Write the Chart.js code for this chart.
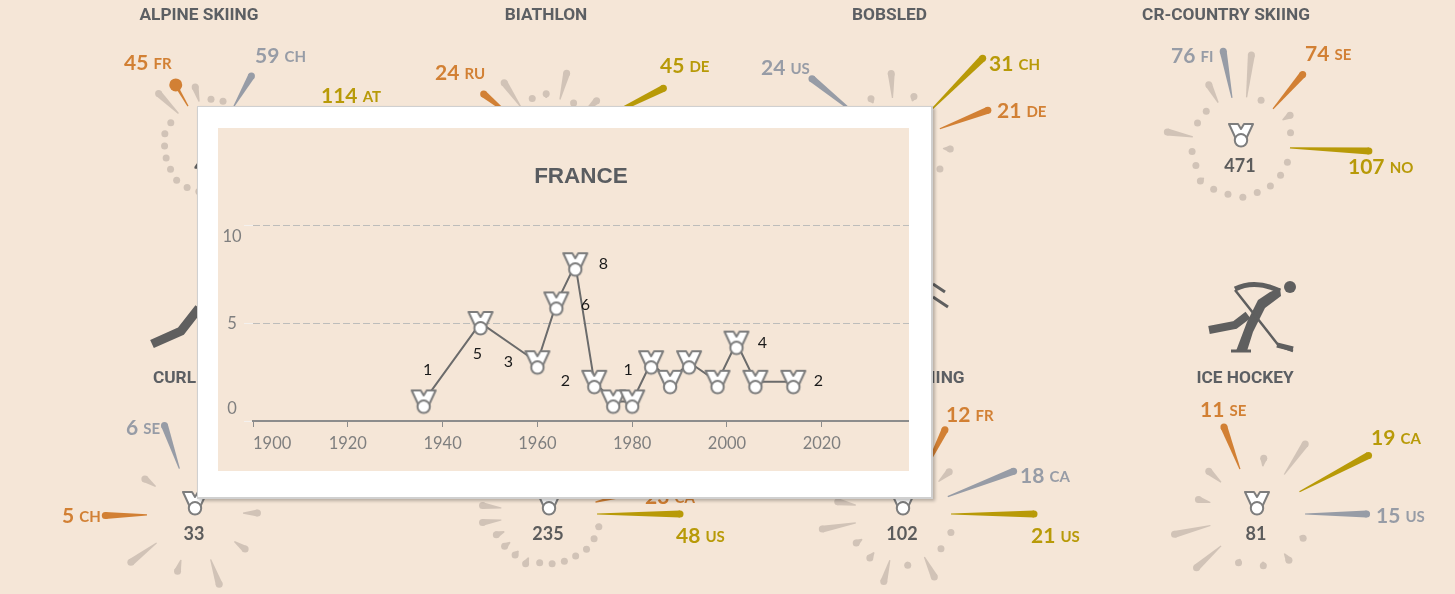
<!DOCTYPE html>
<html>
<head>
<meta charset="utf-8">
<title>France medals</title>
<script src="https://cdn.jsdelivr.net/npm/chart.js@4/dist/chart.umd.min.js"></script>
<style>
    html, body { margin: 0; width: 1455px; height: 594px; overflow: hidden; background: #f5e6d7; }
    canvas { position: absolute; display: block; }
    .sport { position: absolute; transform: translateX(-50%); white-space: nowrap; color: #5c5f63;
             font: 700 17.3px Roboto, sans-serif; }
    #icons { position: absolute; left: 0; top: 0; }
    #popup { position: absolute; left: 197px; top: 106px; width: 733px; height: 390px; background: #fff;
             border: 1px solid #d0d0d0; border-right-width: 2px; border-bottom-width: 2px;
             box-shadow: 2px 2px 3px rgba(0, 0, 0, .25); z-index: 10; }
    #popup canvas { left: 20px; top: 21px; background: #f5e6d7; }
</style>
</head>
<body>
<svg id="icons" width="1455" height="594" fill="none" stroke="#5f5f5f" stroke-linejoin="miter">
    <!-- curling and freestyle pictograms, mostly under the popup -->
    <polyline points="152,344 181,331 199,308" stroke-width="9"/>
    <path d="M933 284 L945 292 M933 297 L948 307" stroke-width="3"/>
    <!-- hockey player -->
    <circle cx="1290" cy="287" r="6" fill="#5f5f5f" stroke="none"/>
    <path d="M1235 289 Q1255 279 1280 291" stroke-width="5"/>
    <polygon points="1280,288 1281,296 1265,308 1253,332 1247,351 1236,351 1247,322 1258,300 1270,292" fill="#5f5f5f" stroke="none"/>
    <path d="M1231 351 L1251 351" stroke-width="3"/>
    <path d="M1209 330 L1235 325 L1248 315" stroke-width="8"/>
    <path d="M1235 290 L1261 323 L1279 346 L1293 351" stroke-width="2.5"/>
    <path d="M1277 345 L1293 349" stroke-width="5"/>
</svg>

<div id="popup"><canvas id="graficoFranca" width="691" height="343"></canvas></div>

<script>
// France line chart
const anosFranca = [1936, 1948, 1960, 1964, 1968, 1972, 1976, 1980, 1984, 1988, 1992, 1998, 2002, 2006, 2014];
const medalhasFranca = [1, 5, 3, 6, 8, 2, 1, 1, 3, 2, 3, 2, 4, 2, 2];
const ticksY = [0, 5, 10];

// Small multiples: medals per country, going clockwise round each burst
const alpineValues = [3, 2, 59, 12, 8, 114, 5, 4, 3, 3, 2, 2, 3, 4, 6, 8, 3, 2, 2, 6, 2, 50, 45, 31];
const biathlonValues = [5, 20, 3, 15, 45, 5, 4, 4, 3, 3, 2, 3, 3, 4, 30, 3, 3, 3, 3, 24, 21, 3];
const bobsledValues = [10, 2, 31, 21, 3, 1, 2, 2, 2, 2, 2, 2, 2, 24, 2];
const crossValues = [71, 6, 74, 25, 10, 107, 2, 2, 4, 3, 10, 6, 10, 16, 2, 2, 51, 2, 2, 43, 76];
const curlingValues = [10, 3, 0.6, 0.5, 2, 0.4, 3, 5, 0.5, 6];
const skatingValues = [3, 6, 8, 12, 20, 23, 48, 2, 2, 2, 1, 1, 1, 1, 4, 3, 4, 5, 11, 11, 5, 4, 4, 3, 3];
const freestyleValues = [2, 12, 4, 18, 21, 1, 1, 6, 1, 6, 2, 2, 9, 5, 2, 2, 2];
const hockeyValues = [2, 9, 19, 15, 1, 2, 1, 1, 8, 9, 3, 4, 11];

// Value and country shown next to a spoke; rank picks the colour
const alpineTop = [[22, 'FR', 'bronze'], [2, 'CH', 'silver'], [5, 'AT', 'gold']];
const biathlonTop = [[19, 'RU', 'bronze'], [4, 'DE', 'gold']];
const bobsledTop = [[13, 'US', 'silver'], [2, 'CH', 'gold'], [3, 'DE', 'bronze']];
const crossTop = [[20, 'FI', 'silver'], [2, 'SE', 'bronze'], [5, 'NO', 'gold']];
const curlingTop = [[9, 'SE', 'silver'], [7, 'CH', 'bronze']];
const skatingTop = [[5, 'CA', 'bronze'], [6, 'US', 'gold']];
const freestyleTop = [[1, 'FR', 'bronze'], [3, 'CA', 'silver'], [4, 'US', 'gold']];
const hockeyTop = [[12, 'SE', 'bronze'], [2, 'CA', 'gold'], [3, 'US', 'silver']];

const cores = { gold: '#b89a08', silver: '#979ca6', bronze: '#d28034', other: '#d1c3b7' };
const RAIO = 190; // half the side of each burst canvas

// Medal picture, used as point style in the line chart and in the middle of each burst
function criarMedalha() {
    const c = document.createElement('canvas');
    c.width = 28;
    c.height = 28;
    const g = c.getContext('2d');
    g.fillStyle = '#fff';
    g.strokeStyle = '#7d7d7d';
    g.lineWidth = 2;
    g.lineJoin = 'round';
    g.beginPath();
    g.moveTo(2, 3);
    g.lineTo(11, 3);
    g.lineTo(14, 8);
    g.lineTo(17, 3);
    g.lineTo(26, 3);
    g.lineTo(19.5, 17);
    g.lineTo(8.5, 17);
    g.closePath();
    g.fill();
    g.stroke();
    g.beginPath();
    g.arc(14, 19.3, 6.2, 0, Math.PI * 2);
    g.fill();
    g.stroke();
    return c;
}
const medalha = criarMedalha();

// Plugin that draws the tapered spokes with the radial scale
const spokesPlugin = {
    id: 'spokes',
    afterDatasetsDraw(chart, args, opts) {
        const { ctx } = chart;
        const r = chart.scales.r;
        const valores = chart.data.datasets[0].data;
        const destaque = new Map(opts.top.map(t => [t[0], t]));

        valores.forEach((v, i) => {
            const topo = destaque.get(i);
            const base = r.getPointPositionForValue(i, 0);
            const ponta = r.getPointPositionForValue(i, Math.pow(v, opts.power));
            const ang = r.getIndexAngle(i);
            const cap = opts.bulb === i ? 1.6 : 3.5;
            const nx = Math.cos(ang);
            const ny = Math.sin(ang);
            ctx.fillStyle = topo ? cores[topo[2]] : cores.other;
            ctx.beginPath();
            ctx.moveTo(base.x + nx * 0.6, base.y + ny * 0.6);
            ctx.lineTo(ponta.x + nx * cap, ponta.y + ny * cap);
            ctx.lineTo(ponta.x - nx * cap, ponta.y - ny * cap);
            ctx.lineTo(base.x - nx * 0.6, base.y - ny * 0.6);
            ctx.closePath();
            ctx.fill();
            ctx.beginPath();
            ctx.arc(ponta.x, ponta.y, opts.bulb === i ? 6.5 : cap, 0, Math.PI * 2);
            ctx.fill();
        });

        // labels beside the spokes
        ctx.textBaseline = 'middle';
        ctx.textAlign = 'left';
        opts.top.forEach((t, n) => {
            const x = r.xCenter + opts.labels[n][0];
            const y = r.yCenter + opts.labels[n][1];
            const num = String(valores[t[0]]);
            ctx.fillStyle = cores[t[2]];
            ctx.font = '700 21px Lato, sans-serif';
            ctx.fillText(num, x, y);
            const w = ctx.measureText(num + ' ').width;
            ctx.font = '700 15px Lato, sans-serif';
            ctx.fillText(t[1], x + w, y + 1);
        });

        // medal and total in the middle
        ctx.drawImage(medalha, r.xCenter - 14, r.yCenter - 25);
        if (opts.total) {
            ctx.fillStyle = '#5c5c5c';
            ctx.font = '700 18px Lato, sans-serif';
            ctx.textAlign = 'center';
            ctx.fillText(opts.total, r.xCenter - 1, r.yCenter + 20);
        }
    }
};

function criarBurst(cfg) {
    const canvas = document.createElement('canvas');
    canvas.width = RAIO * 2;
    canvas.height = RAIO * 2;
    canvas.style.left = (cfg.cx - RAIO) + 'px';
    canvas.style.top = (cfg.cy - RAIO) + 'px';
    document.body.appendChild(canvas);

    // hole = radius of a zero value, len = length of the longest spoke
    const maior = Math.pow(cfg.vmax || Math.max(...cfg.values), cfg.power);
    const faixa = maior * RAIO / cfg.len;
    const minimo = -cfg.hole * maior / cfg.len;

    return new Chart(canvas.getContext('2d'), {
        type: 'radar',
        data: {
            labels: cfg.values.map((v, i) => String(i)),
            datasets: [{
                data: cfg.values,
                fill: false,
                showLine: false,
                borderWidth: 0,
                borderColor: 'transparent',
                backgroundColor: 'transparent',
                pointRadius: 0,
                pointHoverRadius: 0
            }]
        },
        options: {
            responsive: false,
            animation: false,
            events: [],
            scales: {
                r: {
                    min: minimo,
                    max: minimo + faixa,
                    startAngle: cfg.start,
                    grid: { display: false },
                    angleLines: { display: false },
                    pointLabels: { display: false },
                    ticks: { display: false }
                }
            },
            plugins: {
                legend: { display: false },
                tooltip: { enabled: false },
                spokes: { top: cfg.top, labels: cfg.labels, power: cfg.power, total: cfg.total, bulb: cfg.bulb }
            }
        },
        plugins: [spokesPlugin]
    });
}

criarBurst({ cx: 211, cy: 146, values: alpineValues, top: alpineTop, start: 0, hole: 46, len: 82, power: 1.3, bulb: 22,
    total: '442', labels: [[-87, -83], [44, -90], [110, -50]] });
criarBurst({ cx: 548, cy: 146, values: biathlonValues, top: biathlonTop, start: -2, hole: 48, len: 81, power: 1.35,
    labels: [[-113, -73], [112, -80]] });
criarBurst({ cx: 895, cy: 146, values: bobsledValues, top: bobsledTop, start: -3, hole: 48, len: 76, power: 1,
    labels: [[-134, -78], [94, -82], [102, -35]] });
criarBurst({ cx: 1241, cy: 146, values: crossValues, top: crossTop, start: 6.5, hole: 49, len: 79, power: 1.5,
    total: '471', labels: [[-70, -90], [64, -92], [107, 21]] });
criarBurst({ cx: 195, cy: 514, values: curlingValues, top: curlingTop, start: 17, hole: 48, len: 59, power: 0.5, vmax: 10,
    total: '33', labels: [[-69, -86], [-133, 2]] });
criarBurst({ cx: 549, cy: 514, values: skatingValues, top: skatingTop, start: 3.6, hole: 48, len: 83, power: 1,
    total: '235', labels: [[96, -17], [127, 22]] });
criarBurst({ cx: 903, cy: 514, values: freestyleValues, top: freestyleTop, start: 5.3, hole: 48, len: 83, power: 1.05,
    total: '102', labels: [[43, -99], [117, -38], [128, 22]] });
criarBurst({ cx: 1257, cy: 514, values: hockeyValues, top: hockeyTop, start: 6.9, hole: 48, len: 78, power: 1,
    total: '81', labels: [[-57, -104], [114, -76], [119, 2]] });

// Sport titles
const sportNames = ['ALPINE SKIING', 'BIATHLON', 'BOBSLED', 'CR-COUNTRY SKIING', 'CURLING', 'FREESTYLE SKIING', 'ICE HOCKEY'];
const sportCenters = [[199, 4], [546, 4], [889.5, 4], [1226, 4], [189, 367], [889, 367], [1245, 367]];
sportNames.forEach((nome, i) => {
    const d = document.createElement('div');
    d.className = 'sport';
    d.textContent = nome;
    d.style.left = sportCenters[i][0] + 'px';
    d.style.top = sportCenters[i][1] + 'px';
    document.body.appendChild(d);
});

// Offsets of the value labels, relative to each point (null = no label)
const deslocamentos = [[4, -32], [-3, 31], [-29, 0], [29, 1], [28, 0], [-29, -1], null, [-4, -32],
    null, null, null, null, [26, 0], null, [25, -1]];
const ajusteY = { 0: -12, 5: 1, 10: 12 };

const rotulosPlugin = {
    id: 'rotulos',
    afterDatasetsDraw(chart) {
        const { ctx } = chart;
        const pontos = chart.getDatasetMeta(0).data;
        ctx.save();
        ctx.font = '16px Lato, sans-serif';
        ctx.textAlign = 'center';
        ctx.textBaseline = 'middle';
        ctx.fillStyle = '#1a1a1a';
        pontos.forEach((p, i) => {
            if (deslocamentos[i]) {
                ctx.fillText(chart.data.datasets[0].data[i].y, p.x + deslocamentos[i][0], p.y + deslocamentos[i][1]);
            }
        });
        // y tick labels sit off their gridlines in the original
        const y = chart.scales.y;
        ctx.font = '16.5px Lato, sans-serif';
        ctx.fillStyle = '#7f7f7f';
        ticksY.forEach(v => {
            ctx.fillText(String(v), y.left + 14, y.getPixelForValue(v) + ajusteY[v]);
        });
        ctx.restore();
    }
};

const grafico = new Chart(document.getElementById('graficoFranca').getContext('2d'), {
    type: 'line',
    data: {
        datasets: [{
            data: anosFranca.map((a, i) => ({ x: a, y: medalhasFranca[i] })),
            borderColor: '#6b6b6b',
            borderWidth: 2,
            tension: 0,
            pointStyle: medalha,
            pointRadius: 14
        }]
    },
    options: {
        responsive: false,
        animation: false,
        events: [],
        layout: { autoPadding: false },
        scales: {
            x: {
                type: 'linear',
                min: 1900,
                max: 2038.4,
                border: { color: '#8c8c8c', width: 2 },
                grid: {
                    drawOnChartArea: false,
                    tickLength: 6,
                    tickColor: c => (c.tick && c.tick.value % 20 === 0 ? '#8c8c8c' : 'transparent')
                },
                ticks: {
                    stepSize: 20,
                    align: 'inner',
                    maxRotation: 0,
                    autoSkip: false,
                    padding: 7,
                    color: '#7f7f7f',
                    font: { family: 'Lato, sans-serif', size: 16.5 },
                    callback: v => (v % 20 === 0 ? String(v) : '')
                },
                afterFit: s => {
                    s.height = 50;
                    s.paddingLeft = 0;
                    s.paddingRight = 0;
                }
            },
            y: {
                min: 0,
                max: 10,
                border: { display: false, dash: [7, 3] },
                grid: {
                    color: c => (c.tick && c.tick.value === 0 ? 'transparent' : '#bdbdbb'),
                    tickColor: '#f4f1ee',
                    tickLength: 9,
                    tickBorderDash: []
                },
                ticks: { stepSize: 5, display: false },
                afterFit: s => { s.width = 35; }
            }
        },
        plugins: {
            legend: { display: false },
            tooltip: { enabled: false },
            title: {
                display: true,
                text: 'FRANCE',
                fullSize: false,
                color: '#595c60',
                font: { family: 'Liberation Sans, sans-serif', size: 22.5, weight: 'bold' },
                padding: { top: 35, bottom: 35 }
            }
        }
    },
    plugins: [rotulosPlugin]
});
</script>
</body>
</html>
